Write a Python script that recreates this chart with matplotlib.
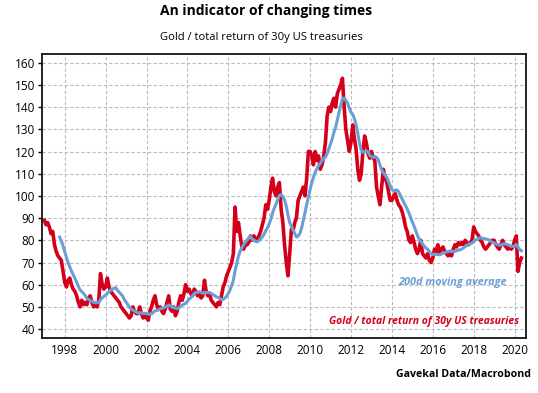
import pandas as pd
import numpy as np
import matplotlib
matplotlib.use('Agg')
import matplotlib.pyplot as plt
import matplotlib.dates as mdates

# monthly values of gold / total return of 30y US treasuries
start = '1997-01-01'
ratio_1997_2004 = [
    89, 87, 88, 86, 83, 84, 78, 75, 73, 72, 71, 66,
    61, 59, 62, 63, 60, 58, 57, 55, 52, 50, 53, 51,
    52, 51, 54, 55, 52, 50, 51, 50, 53, 65, 60, 58,
    59, 63, 59, 57, 56, 55, 54, 53, 52, 50, 49, 48,
    47, 46, 45, 46, 50, 48, 47, 47, 50, 47, 45, 46,
    45, 44, 48, 50, 53, 55, 51, 49, 50, 48, 47, 49,
    52, 55, 49, 48, 50, 46, 48, 52, 55, 53, 56, 60,
    57, 58, 56, 55, 58, 57, 55, 56, 54, 55, 62, 57,
]
ratio_2005_2012 = [
    55, 56, 53, 52, 51, 50, 52, 51, 55, 59, 61, 64,
    66, 68, 70, 74, 95, 84, 88, 82, 77, 76, 78, 78,
    79, 82, 80, 82, 81, 80, 82, 84, 87, 90, 96, 94,
    98, 104, 108, 102, 100, 104, 106, 94, 88, 78, 70, 64,
    74, 85, 84, 88, 90, 98, 100, 102, 104, 100, 108, 120,
    120, 118, 114, 120, 116, 118, 112, 114, 118, 124, 136, 140,
    138, 142, 144, 140, 146, 148, 150, 153, 140, 130, 125, 120,
    124, 132, 126, 121, 112, 107, 110, 120, 127, 124, 119, 117,
]
ratio_2013_2020 = [
    120, 117, 116, 104, 100, 96, 104, 112, 108, 106, 102, 98,
    98, 100, 101, 98, 96, 95, 93, 90, 86, 84, 80, 79,
    82, 79, 76, 74, 76, 80, 74, 73, 72, 74, 71, 70,
    72, 76, 75, 78, 74, 76, 77, 75, 74, 73, 74, 73,
    76, 78, 77, 79, 78, 79, 78, 80, 79, 78, 79, 80,
    86, 84, 83, 82, 80, 79, 77, 76, 77, 78, 79, 80,
    80, 78, 77, 76, 78, 80, 78, 77, 76, 77, 76, 77,
    80, 82, 66, 70, 72,
]
ma_months = 10  # ~200 trading days

ratio = ratio_1997_2004 + ratio_2005_2012 + ratio_2013_2020
dates = pd.date_range(start, periods=len(ratio), freq='MS')
s = pd.Series(ratio, index=dates, dtype=float)
ma = s.rolling(ma_months).mean()

red = '#d4001a'
blue = '#6a9fd6'

plt.rcParams['font.family'] = ['Open Sans', 'DejaVu Sans']

fig = plt.figure(figsize=(5.38, 3.93), dpi=100)
ax = fig.add_axes([0.078, 0.140, 0.900, 0.723])

ax.plot(s.index, s.values, color=red, lw=2.6, zorder=2)
ax.plot(ma.index, ma.values, color=blue, lw=2.2, zorder=3)

ax.set_ylim(36, 164)
ax.set_yticks(np.arange(40, 161, 10))
ax.set_xlim(pd.Timestamp('1996-11-20'), pd.Timestamp('2020-07-26'))
ax.xaxis.set_major_locator(mdates.YearLocator(2))
ax.xaxis.set_major_formatter(mdates.DateFormatter('%Y'))
ax.grid(True, ls=(0, (3, 2)), color='#bbbbbb', lw=0.8, zorder=0)
ax.tick_params(axis='x', length=0, pad=4.5, labelsize=8.5)
ax.tick_params(axis='y', length=3, width=1, pad=2, labelsize=8.5)
for sp in ax.spines.values():
    sp.set_linewidth(1.2)

fig.text(0.494, 0.972, 'An indicator of changing times', ha='center', va='center',
         fontsize=10, fontweight='bold')
fig.text(0.486, 0.905, 'Gold / total return of 30y US treasuries', ha='center', va='center',
         fontsize=8.1)
fig.text(0.942, 0.281, '200d moving average', ha='right', va='center',
         fontsize=7.8, style='italic', fontweight='bold', color=blue)
fig.text(0.965, 0.183, 'Gold / total return of 30y US treasuries', ha='right', va='center',
         fontsize=7.5, style='italic', fontweight='bold', color=red)
fig.text(0.987, 0.048, 'Gavekal Data/Macrobond', ha='right', va='center',
         fontsize=7.6, fontweight='bold')

fig.savefig('out.png', dpi=100)
